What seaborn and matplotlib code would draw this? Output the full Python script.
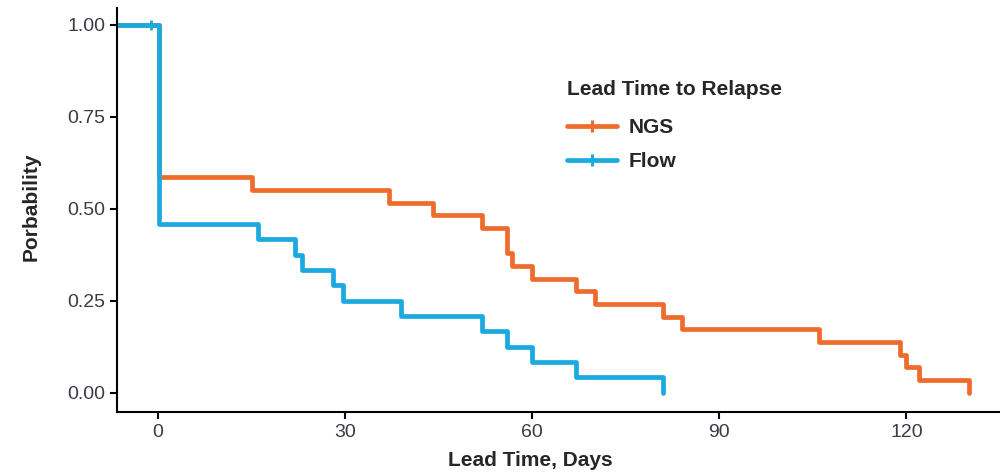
import matplotlib
matplotlib.use("Agg")
import matplotlib.pyplot as plt
import seaborn as sns
import pandas as pd

# ---- data ----
ngs_days = [-7, 0.2, 15, 37, 44, 52, 56, 56.8, 60, 67, 70, 81, 84, 106, 119, 120, 122, 130]
ngs_prob = [1.0, 0.586, 0.552, 0.517, 0.483, 0.448, 0.379, 0.345, 0.310, 0.276, 0.241,
            0.207, 0.172, 0.138, 0.103, 0.069, 0.034, 0.0]

flow_days = [-7, 0.2, 16, 22, 23, 28, 29.7, 39, 52, 56, 60, 67, 81]
flow_prob = [1.0, 0.458, 0.417, 0.375, 0.333, 0.292, 0.25, 0.208, 0.167, 0.125, 0.083, 0.042, 0.0]

flow_censor_days = [-1.2]
flow_censor_prob = [1.0]

groups = ["NGS", "Flow"]
x_ticks = [0, 30, 60, 90, 120]
y_ticks = [0.0, 0.25, 0.50, 0.75, 1.00]

colors = {"NGS": "#EE6C2B", "Flow": "#1BAADF"}

df = pd.concat([
    pd.DataFrame({"days": ngs_days, "prob": ngs_prob, "group": "NGS"}),
    pd.DataFrame({"days": flow_days, "prob": flow_prob, "group": "Flow"}),
], ignore_index=True)
cens = pd.DataFrame({"days": flow_censor_days, "prob": flow_censor_prob, "group": "Flow"})

sns.set_theme(style="ticks")
plt.rcParams["font.family"] = ["Liberation Sans", "DejaVu Sans"]

fig = plt.figure(figsize=(10, 4.75), dpi=100)
ax = fig.add_axes([0.117, 0.133, 0.883, 0.85])

sns.lineplot(data=df, x="days", y="prob", hue="group", hue_order=groups,
             palette=colors, estimator=None, drawstyle="steps-post",
             linewidth=3.4, ax=ax, legend=True)
sns.scatterplot(data=cens, x="days", y="prob", hue="group", hue_order=groups,
                palette=colors, marker="|", s=60, linewidth=2, ax=ax, legend=False)

ax.set_xlim(-6.6, 135)
ax.set_ylim(-0.052, 1.046)
ax.set_xticks(x_ticks)
ax.set_yticks(y_ticks)
ax.set_yticklabels([f"{v:.2f}" for v in y_ticks])
ax.tick_params(axis="both", labelsize=14, colors="black", labelcolor="#3a3a48",
               width=1.5, length=5)
for side in ["left", "bottom"]:
    ax.spines[side].set_linewidth(1.5)
    ax.spines[side].set_color("black")
sns.despine(ax=ax)

ax.set_xlabel("Lead Time, Days", fontsize=15, fontweight="bold")
ax.set_ylabel("Porbability", fontsize=15, fontweight="bold")
ax.xaxis.set_label_coords(0.4677, -0.097)
ax.yaxis.set_label_coords(-0.086, 0.507)

handles, labels = ax.get_legend_handles_labels()
for h in handles:
    h.set_marker("|")
    h.set_markersize(9)
    h.set_markeredgewidth(2.2)
    h.set_markeredgecolor(h.get_color())
ax.get_legend().remove()
leg = fig.legend(handles, labels, title="Lead Time to Relapse", loc="upper left",
                 bbox_to_anchor=(0.567, 0.831), frameon=False, alignment="left",
                 prop={"size": 15, "weight": "bold"}, handlelength=2.4,
                 handletextpad=0.55, labelspacing=0.72, borderpad=0,
                 borderaxespad=0)
leg.get_title().set_fontweight("bold")
leg.get_title().set_fontsize(15)
try:
    leg._legend_box.sep += 3
except Exception:
    pass

fig.savefig("out.png", dpi=100)
